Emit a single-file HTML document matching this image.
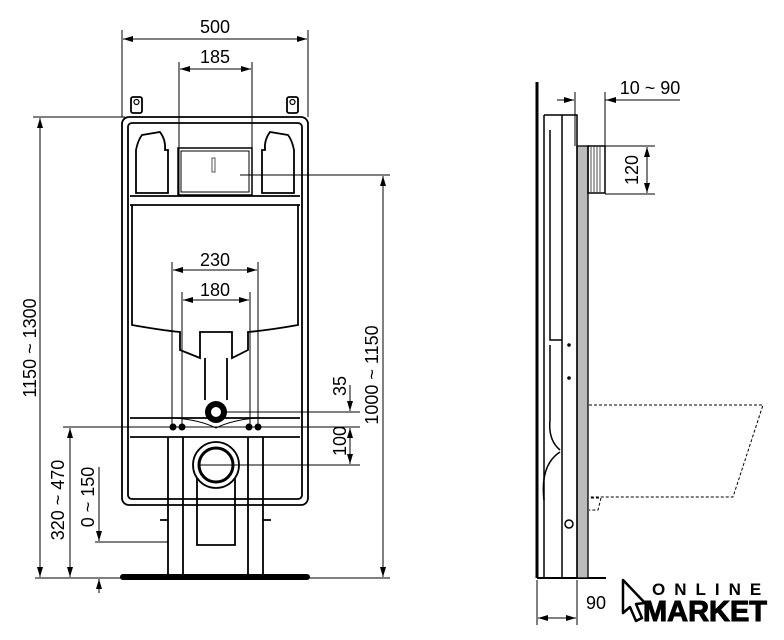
<!DOCTYPE html>
<html><head><style>
html,body{margin:0;padding:0;background:#fff;}
svg{display:block;}
text{font-family:"Liberation Sans",Arial,sans-serif;fill:#000;}
</style></head><body>
<svg width="784" height="640" viewBox="0 0 784 640" xmlns="http://www.w3.org/2000/svg">
<defs>
<marker id="a" viewBox="0 0 10 6" refX="10" refY="3" markerWidth="10" markerHeight="6" orient="auto-start-reverse" markerUnits="userSpaceOnUse"><path d="M0,0L10,3L0,6z" fill="#000"/></marker>
</defs>
<g stroke="#000" fill="none" stroke-width="1">
<line x1="122" y1="30" x2="122" y2="117"/><line x1="308" y1="30" x2="308" y2="117"/>
<line x1="123" y1="39" x2="307" y2="39" marker-start="url(#a)" marker-end="url(#a)"/>
<line x1="179" y1="62" x2="179" y2="195"/><line x1="252" y1="62" x2="252" y2="195"/>
<line x1="180" y1="69" x2="251" y2="69" marker-start="url(#a)" marker-end="url(#a)"/>
<line x1="33" y1="117" x2="125" y2="117"/>
<line x1="40" y1="118" x2="40" y2="577" marker-start="url(#a)" marker-end="url(#a)"/>
<line x1="63" y1="427" x2="360" y2="427"/>
<line x1="70" y1="428" x2="70" y2="577" marker-start="url(#a)" marker-end="url(#a)"/>
<line x1="95" y1="542" x2="168" y2="542"/>
<line x1="99" y1="467" x2="99" y2="541" marker-end="url(#a)"/>
<line x1="99" y1="593" x2="99" y2="579" marker-end="url(#a)"/>
<line x1="35" y1="578" x2="390" y2="578"/>
<line x1="240" y1="175" x2="390" y2="175"/>
<line x1="383" y1="176" x2="383" y2="577" marker-start="url(#a)" marker-end="url(#a)"/>
<line x1="220" y1="412" x2="360" y2="412"/>
<line x1="200" y1="465" x2="360" y2="465"/>
<line x1="350" y1="385" x2="350" y2="411" marker-end="url(#a)"/>
<line x1="350" y1="428" x2="350" y2="464" marker-start="url(#a)" marker-end="url(#a)"/>
<line x1="172" y1="262" x2="172" y2="427"/><line x1="258" y1="262" x2="258" y2="427"/>
<line x1="182" y1="292" x2="182" y2="427"/><line x1="250" y1="292" x2="250" y2="427"/>
<line x1="173" y1="270" x2="257" y2="270" marker-start="url(#a)" marker-end="url(#a)"/>
<line x1="183" y1="300" x2="249" y2="300" marker-start="url(#a)" marker-end="url(#a)"/>
</g>
<g stroke="#000" fill="none" stroke-width="1.8">
<rect x="122" y="117" width="186" height="388" rx="7"/>
<rect x="128" y="123" width="174" height="376" rx="4"/>
<rect x="131" y="97" width="11" height="16" rx="2"/><rect x="287" y="97" width="11" height="16" rx="2"/>
<circle cx="136.5" cy="102" r="2.5" stroke-width="1.2"/><circle cx="292.5" cy="102" r="2.5" stroke-width="1.2"/>
<path d="M142,135 L160,132 Q166,140 165,150 L168,150 L168,193 L136,193 L136,150 Q138,140 142,135z"/>
<path d="M288,135 L270,132 Q264,140 265,150 L262,150 L262,193 L294,193 L294,150 Q292,140 288,135z"/>
<rect x="178" y="148" width="74" height="47" stroke-width="1.5"/>
<rect x="181" y="151" width="68" height="41" stroke-width="1"/>
<line x1="130" y1="196" x2="300" y2="196"/><line x1="130" y1="205" x2="300" y2="205"/>
<path d="M132,205 L132,325 Q160,330 180,332 L180,350 L200,358 L200,332 L232,332 L232,358 L248,350 L248,332 Q270,330 298,325 L298,205"/>
<path d="M205,358 L205,400 M227,358 L227,400"/>
<line x1="130" y1="418" x2="300" y2="418"/><line x1="130" y1="437" x2="300" y2="437"/>
<path d="M175,418 Q200,420 216,428 Q232,420 257,418" stroke-width="1"/>
<circle cx="216" cy="465" r="23"/><circle cx="216" cy="465" r="17" stroke-width="3"/>
<path d="M168,437 L168,574 M183,437 L183,574 M248,437 L248,574 M263,437 L263,574"/>
<path d="M197,478 L197,545 L235,545 L235,478"/>
<path d="M160,520 L168,520 M263,520 L271,520"/>
</g>
<circle cx="216" cy="412" r="11" fill="#000"/><circle cx="216" cy="412" r="5" fill="#fff"/>
<g fill="#000"><circle cx="173" cy="427" r="3.5"/><circle cx="182" cy="427" r="3.5"/><circle cx="249" cy="427" r="3.5"/><circle cx="258" cy="427" r="3.5"/></g>
<rect x="212" y="158" width="3" height="14" fill="none" stroke="#555"/>
<line x1="245" y1="175" x2="260" y2="175" stroke="#000"/>
<rect x="120" y="574" width="190" height="6" rx="3" fill="#000"/>
<g stroke="#000" fill="none">
<line x1="537" y1="82" x2="537" y2="578" stroke-width="3"/>
<line x1="537" y1="578" x2="606" y2="578" stroke-width="2"/>
<rect x="577" y="146" width="11" height="432" fill="#bbb" stroke="#000" stroke-width="1.3"/>
<path d="M544,115 L577,115 L577,578 M562,115 L562,578 M544,115 L544,578" stroke-width="1.5"/>
<path d="M550,130 L550,340 L562,340 M550,345 L550,420 Q548,440 560,450" stroke-width="1.5"/>
<path d="M560,452 Q540,465 544,500" stroke-width="1.5"/>
<rect x="588" y="146" width="17" height="47" stroke-width="1.5"/>
<path d="M591,147 L591,192 M594,147 L594,192 M597,147 L597,192 M600,147 L600,192" stroke-width="0.7"/>
<line x1="575" y1="92" x2="575" y2="146"/><line x1="605" y1="92" x2="605" y2="146"/>
<line x1="557" y1="100" x2="574" y2="100" marker-end="url(#a)"/>
<line x1="620" y1="100" x2="606" y2="100" marker-end="url(#a)"/>
<line x1="605" y1="100" x2="680" y2="100"/>
<line x1="605" y1="146" x2="655" y2="146"/><line x1="605" y1="194" x2="655" y2="194"/>
<line x1="647" y1="147" x2="647" y2="193" marker-start="url(#a)" marker-end="url(#a)"/>
<path d="M589,405 L763,405 L733,497 L589,497 M591,498 L601,498 L598,510 L589,510" stroke-dasharray="3,2"/>
<line x1="537" y1="580" x2="537" y2="625"/><line x1="577" y1="580" x2="577" y2="625"/>
<line x1="538" y1="618" x2="576" y2="618" marker-start="url(#a)" marker-end="url(#a)"/>
</g>
<circle cx="569" cy="345" r="1.8" fill="#000"/><circle cx="569" cy="378" r="1.8" fill="#000"/>
<circle cx="569" cy="524" r="4" fill="none" stroke="#000" stroke-width="1.5"/>
<g font-size="18">
<text x="215" y="33" text-anchor="middle">500</text>
<text x="215" y="63" text-anchor="middle">185</text>
<text x="215" y="266" text-anchor="middle">230</text>
<text x="215" y="296" text-anchor="middle">180</text>
<text x="650" y="94" text-anchor="middle">10 ~ 90</text>
<text x="596" y="609" text-anchor="middle">90</text>
<text transform="translate(36,348) rotate(-90)" text-anchor="middle">1150 ~ 1300</text>
<text transform="translate(64,500) rotate(-90)" text-anchor="middle">320 ~ 470</text>
<text transform="translate(94,497) rotate(-90)" text-anchor="middle">0 ~ 150</text>
<text transform="translate(378,375) rotate(-90)" text-anchor="middle">1000 ~ 1150</text>
<text transform="translate(346,386) rotate(-90)" text-anchor="middle">35</text>
<text transform="translate(346,441) rotate(-90)" text-anchor="middle">100</text>
<text transform="translate(638,170) rotate(-90)" text-anchor="middle">120</text>
</g>
<path d="M623,580 L645,603 L636,604 L642,618 L636,621 L630,607 L623,613 Z" fill="none" stroke="#000" stroke-width="2.5" stroke-linejoin="round"/>
<text x="652" y="595" font-size="17" font-weight="bold" letter-spacing="9">ONLINE</text>
<text x="643" y="621" font-size="29" font-weight="bold" stroke="#000" stroke-width="1" textLength="124" lengthAdjust="spacingAndGlyphs">MARKET</text>
</svg>
</body></html>
